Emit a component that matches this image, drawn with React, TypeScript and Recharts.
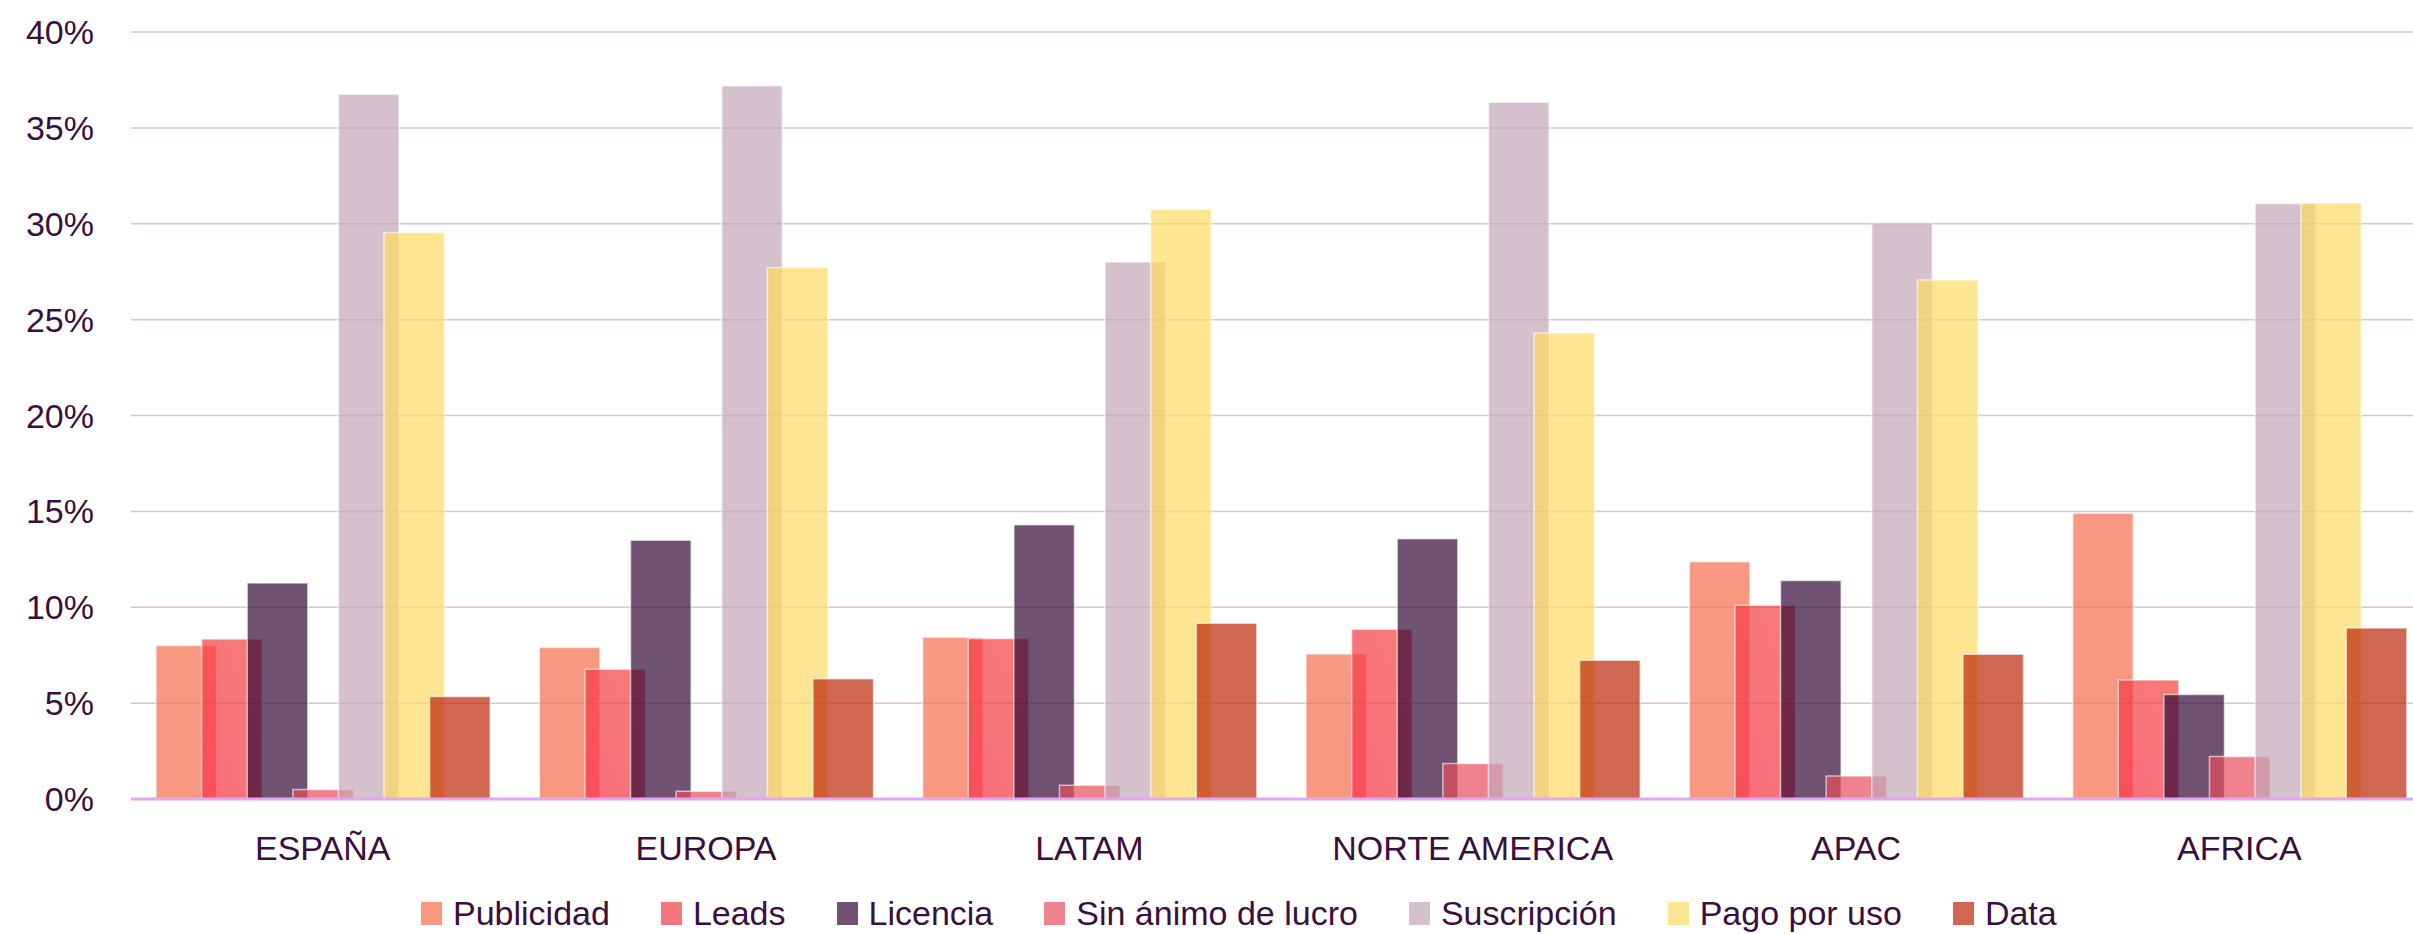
import React from 'react';
import { BarChart, Bar, XAxis, YAxis, CartesianGrid, Legend } from 'recharts';

const categories = ['ESPAÑA', 'EUROPA', 'LATAM', 'NORTE AMERICA', 'APAC', 'AFRICA'];
const publicidad = [8.0, 7.9, 8.43, 7.56, 12.37, 14.9];
const leads = [8.35, 6.77, 8.37, 8.85, 10.1, 6.2];
const licencia = [11.27, 13.5, 14.3, 13.57, 11.4, 5.45];
const sinAnimo = [0.5, 0.4, 0.72, 1.85, 1.2, 2.22];
const suscripcion = [36.75, 37.2, 28.0, 36.33, 30.05, 31.05];
const pagoPorUso = [29.55, 27.72, 30.75, 24.3, 27.07, 31.08];
const dataValues = [5.35, 6.27, 9.16, 7.23, 7.55, 8.92];
const yTicks = [0, 5, 10, 15, 20, 25, 30, 35, 40];

const seriesNames = ['Publicidad', 'Leads', 'Licencia', 'Sin ánimo de lucro', 'Suscripción', 'Pago por uso', 'Data'];
const seriesValues = [publicidad, leads, licencia, sinAnimo, suscripcion, pagoPorUso, dataValues];
const seriesColors = ['#F56C4A', 'url(#leadsGrad)', '#330836', '#E74F5C', '#C3A6B8', '#FEDA63', '#BA2708'];
const legendColors = ['#F56C4A', 'linear-gradient(45deg, #F7304A, #F2443C)', '#330836', '#E74F5C', '#C3A6B8', '#FEDA63', '#BA2708'];

const FONT = "'Liberation Sans', Arial, sans-serif";
const TEXT = '#3B0E40';
const OPACITY = 0.7;

const chartData = categories.map((c, i) => {
  const row: Record<string, string | number> = { name: c };
  seriesNames.forEach((s, k) => {
    row[s] = seriesValues[k][i];
  });
  return row;
});

const LegendContent = () => (
  <div
    style={{
      display: 'flex',
      alignItems: 'center',
      height: 34,
      paddingTop: 10,
      fontFamily: FONT,
      fontSize: 34,
      lineHeight: '34px',
      color: TEXT,
      whiteSpace: 'nowrap',
    }}
  >
    {seriesNames.map((s, k) => (
      <div key={s} style={{ display: 'flex', alignItems: 'center', marginRight: k < seriesNames.length - 1 ? 51 : 0 }}>
        <span
          style={{
            display: 'inline-block',
            width: 21,
            height: 23,
            marginRight: 11,
            background: legendColors[k],
            opacity: OPACITY,
          }}
        />
        <span>{s}</span>
      </div>
    ))}
  </div>
);

export default function App() {
  return (
    <div
      style={{
        position: 'absolute',
        left: 0,
        top: 0,
        width: 2413,
        height: 934,
        overflow: 'hidden',
        background: '#ffffff',
        fontFamily: FONT,
      }}
    >
      <BarChart
        width={2441}
        height={934}
        data={chartData}
        margin={{ top: 32, right: 10, bottom: 0, left: 0 }}
        barSize={60.6}
        barGap={-15}
      >
        <defs>
          <linearGradient id="leadsGrad" x1="0" y1="1" x2="1" y2="0">
            <stop offset="0%" stopColor="#F7304A" />
            <stop offset="100%" stopColor="#F2443C" />
          </linearGradient>
        </defs>
        <CartesianGrid vertical={false} stroke="#D9C4D3" strokeWidth={1.5} />
        <XAxis
          dataKey="name"
          height={87}
          tickLine={false}
          tickSize={0}
          tickMargin={37}
          axisLine={{ stroke: '#E4A6EE', strokeWidth: 3 }}
          tick={{ fill: TEXT, fontSize: 34, fontFamily: FONT }}
          interval={0}
        />
        <YAxis
          width={131}
          domain={[0, 40]}
          ticks={yTicks}
          allowDataOverflow
          axisLine={false}
          tickLine={false}
          tickSize={0}
          tickMargin={37}
          tickFormatter={(v: number) => `${v}%`}
          tick={{ fill: TEXT, fontSize: 34, fontFamily: FONT }}
        />
        <Legend
          verticalAlign="bottom"
          height={48}
          wrapperStyle={{ left: 421, bottom: 0, width: 1900 }}
          content={LegendContent}
        />
        {seriesNames.map((s, k) => (
          <Bar
            key={s}
            dataKey={s}
            name={s}
            fill={seriesColors[k]}
            fillOpacity={OPACITY}
            stroke="#ffffff"
            strokeOpacity={0.6}
            strokeWidth={1.5}
            isAnimationActive={false}
          />
        ))}
      </BarChart>
    </div>
  );
}
